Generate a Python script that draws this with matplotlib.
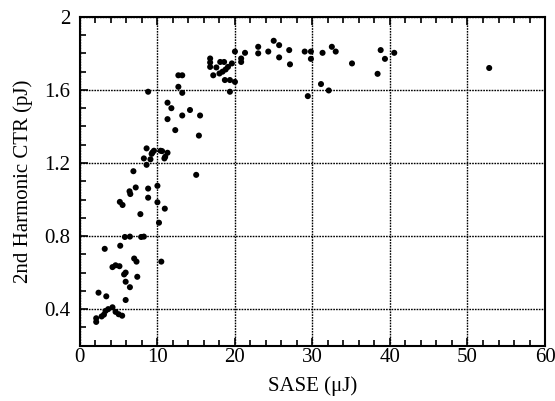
"""Scatter of 2nd harmonic CTR energy against SASE pulse energy."""

import matplotlib

matplotlib.use("Agg")
import matplotlib.pyplot as plt
from matplotlib.ticker import MultipleLocator

# SASE energy (uJ) and 2nd harmonic CTR energy (pJ)
sase_uj = [
    2.1, 2.1, 2.8, 3.1, 3.3, 3.65, 4.2, 4.6, 5.0, 5.45,
    2.4, 3.4, 3.2, 5.9, 6.45, 5.9, 7.4, 5.7, 5.9, 4.2,
    4.6, 5.1, 7.0, 7.3, 5.2, 5.8, 6.45, 7.9, 8.25, 10.5,
    5.15, 5.5, 6.4, 6.5, 7.2, 6.9, 7.8, 8.8, 8.8, 10.0,
    10.0, 10.95, 10.2,
    8.6, 9.35, 9.55, 10.4, 10.6, 11.3, 8.25, 9.1, 8.6, 10.9,
    9.25, 11.0,
    8.8, 11.3, 11.8, 11.3, 12.3, 13.2, 14.2, 15.5, 15.35, 15.0,
    12.7, 13.2, 12.7, 13.2,
    16.8, 16.8, 16.8, 17.6, 18.1, 18.6, 17.2, 18.0, 18.4, 18.8,
    19.1, 19.6, 20.0, 20.8, 20.8, 21.3, 18.7, 19.35, 20.0, 19.35,
    23.0, 23.0, 24.3, 25.0, 25.7, 25.7, 27.0, 27.1, 29.0, 29.8,
    29.8, 31.3, 32.5, 33.0, 31.1, 32.1, 29.4, 35.1, 38.8, 39.35,
    40.55, 38.4, 52.8,
]
ctr_pj = [
    0.33, 0.35, 0.36, 0.37, 0.39, 0.40, 0.41, 0.385, 0.372, 0.364,
    0.49, 0.47, 0.73, 0.45, 0.52, 0.55, 0.577, 0.59, 0.60, 0.63,
    0.64, 0.635, 0.677, 0.66, 0.747, 0.795, 0.797, 0.795, 0.797, 0.66,
    0.987, 0.97, 1.045, 1.03, 1.066, 1.155, 0.92, 1.06, 1.01, 1.075,
    0.985, 0.95, 0.873,
    1.28, 1.257, 1.267, 1.267, 1.265, 1.256, 1.225, 1.22, 1.19, 1.225,
    1.25, 1.234,
    1.59, 1.53, 1.50, 1.44, 1.38, 1.46, 1.49, 1.46, 1.35, 1.135,
    1.617, 1.584, 1.68, 1.68,
    1.772, 1.75, 1.726, 1.723, 1.753, 1.753, 1.68, 1.69, 1.70, 1.712,
    1.726, 1.745, 1.81, 1.772, 1.753, 1.803, 1.654, 1.654, 1.644, 1.59,
    1.836, 1.80, 1.81, 1.869, 1.845, 1.778, 1.818, 1.74, 1.81, 1.81,
    1.77, 1.803, 1.836, 1.81, 1.632, 1.597, 1.566, 1.745, 1.818, 1.77,
    1.803, 1.688, 1.72,
]

plt.rcParams["font.family"] = ["Liberation Serif", "DejaVu Serif"]

fig = plt.figure(figsize=(5.55, 4.01), dpi=100)
ax = fig.add_axes([0.144, 0.138, 0.838, 0.820])

ax.scatter(sase_uj, ctr_pj, s=19, color="black", edgecolors="none", zorder=3)

ax.set_xlim(0, 60)
ax.set_ylim(0.2, 2.0)
ax.xaxis.set_major_locator(MultipleLocator(10))
ax.xaxis.set_minor_locator(MultipleLocator(2))
ax.yaxis.set_minor_locator(MultipleLocator(0.1))
ax.set_yticks([0.4, 0.8, 1.2, 1.6, 2.0])
ax.set_yticklabels(["0.4", "0.8", "1.2", "1.6", "2"])

ax.grid(True, which="major", color="black", lw=1.0, ls=(0, (1.2, 0.8)))
ax.tick_params(which="both", direction="in", top=True, right=False,
               labelsize=15, width=1.2)
ax.tick_params(axis="x", which="major", length=6, pad=2)
ax.tick_params(axis="y", which="major", length=6, pad=7)
ax.tick_params(which="minor", length=4)
for s in ax.spines.values():
    s.set_linewidth(1.5)

ax.set_xlabel("SASE (μJ)", fontsize=15, labelpad=6)
ax.set_ylabel("2nd Harmonic CTR (pJ)", fontsize=15, labelpad=8)

fig.savefig("out.png", dpi=100)
